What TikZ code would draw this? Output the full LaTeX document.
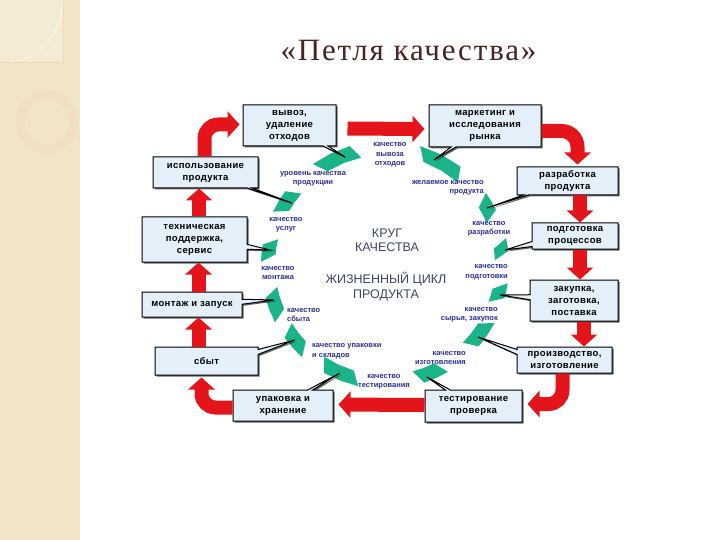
\documentclass[tikz,border=0pt]{standalone}
\usepackage{fontspec}
\setmainfont{Liberation Serif}
\setsansfont{Liberation Sans}
\newfontfamily\boxfont[LetterSpace=4]{Liberation Sans}
\newfontfamily\titlefont[LetterSpace=6]{Liberation Serif}
\usetikzlibrary{arrows.meta,shapes.callouts,shadows}

\definecolor{SlideBeige}{HTML}{F2E4C6}
\definecolor{TitleBrown}{HTML}{4A2420}
\definecolor{BoxBlue}{HTML}{E3F0F9}
\definecolor{LoopRed}{HTML}{E3151B}
\definecolor{LoopGreen}{HTML}{1BB48A}
\definecolor{LabelBlue}{HTML}{2B2F96}
\definecolor{CenterBlue}{HTML}{3A4670}

% one green segment of the ring: middle angle, span
\newcommand{\qpetal}[2]{%
  \fill[LoopGreen] ({#1-#2/2}:110) -- ({#1}:110) -- ({#1+#2/2}:110)
    -- ({#1+#2/2-4}:124) -- ({#1-4}:124) -- ({#1-#2/2-4}:124) -- cycle;}

\begin{document}
\begin{tikzpicture}[x=1pt, y=-1pt,
    stage/.style={rectangle callout, draw=black, line width=1pt, fill=BoxBlue,
      callout pointer width=5pt, align=center, inner sep=0pt,
      font=\boxfont\bfseries\fontsize{9.5}{12}\selectfont,
      drop shadow={shadow xshift=1.5pt, shadow yshift=-1.5pt, opacity=0.6, fill=black}},
    redarrow/.style={line width=14pt, LoopRed, -{Triangle[length=12pt,width=26pt]}},
    quality/.style={font=\sffamily\bfseries\fontsize{7.5}{9.5}\selectfont, text=LabelBlue, inner sep=0pt},
    centre/.style={font=\sffamily\fontsize{12.5}{14.5}\selectfont, text=CenterBlue, align=center, inner sep=0pt}]
    \useasboundingbox (0,0) rectangle (720,540);
    \fill[white] (0,0) rectangle (720,540);

    % Slide decoration on the left
    \fill[SlideBeige] (0,0) rectangle (80,540);
    \fill[white, opacity=0.25] (0,0) rectangle (63,62);
    \draw[SlideBeige!80!brown, opacity=0.5, line width=0.6pt] (63,0) -- (63,62) -- (0,62);
    \draw[white, opacity=0.4, line width=1pt] (63,0) .. controls (60,40) and (35,60) .. (10,62);
    \draw[SlideBeige!90!brown, line width=9pt, opacity=0.35] (47,122) circle (27);

    % Title
    \node[font=\titlefont\fontsize{31}{35}\selectfont, text=TitleBrown, anchor=base] (title) at (408.5,61) {«Петля качества»};

    % Ring of green segments
    \begin{scope}[shift={(385,265)}]
        \qpetal{-112}{19}
        \qpetal{-59}{21}
        \qpetal{-27}{9}
        \qpetal{-5.5}{6}
        \qpetal{16}{7}
        \qpetal{38.5}{13}
        \qpetal{69.5}{12}
        \qpetal{115}{17}
        \qpetal{142}{12}
        \qpetal{162.5}{12}
        \qpetal{189.5}{8}
        \qpetal{215}{11}
    \end{scope}

    % Points on the ring
    \coordinate (g1) at (345,157);
    \coordinate (g2) at (434,160);
    \coordinate (g3) at (487,208);
    \coordinate (g4) at (505,250);
    \coordinate (g5) at (500,295);
    \coordinate (g6) at (478,337);
    \coordinate (g7) at (427,377);
    \coordinate (g8) at (340,373);
    \coordinate (g9) at (295,340);
    \coordinate (g10) at (274,300);
    \coordinate (g11) at (270,250);
    \coordinate (g12) at (292,203);

    % Centre
    \node[centre] (krug) at (387,240.5) {КРУГ\\КАЧЕСТВА};
    \node[centre] (cycle) at (386,286.5) {ЖИЗНЕННЫЙ ЦИКЛ\\ПРОДУКТА};

    % Quality labels
    \node[quality, align=center] (q1) at (390,155) {качество\\вывоза\\отходов};
    \node[quality, align=right, anchor=east] (q2) at (484,188) {желаемое качество\\продукта};
    \node[quality, align=center] (q3) at (489,229) {качество\\разработки};
    \node[quality, align=right, anchor=east] (q4) at (508,272) {качество\\подготовки};
    \node[quality, align=right, anchor=east] (q5) at (498,315) {качество\\сырья, закупок};
    \node[quality, align=right, anchor=east] (q6) at (466,358) {качество\\изготовления};
    \node[quality, align=center] (q7) at (384,382) {качество\\тестирования};
    \node[quality, align=left, anchor=west] (q8) at (312,351) {качество упаковки\\и складов};
    \node[quality, align=left, anchor=west] (q9) at (287,315) {качество\\сбыта};
    \node[quality, align=center] (q10) at (278,273) {качество\\монтажа};
    \node[quality, align=center] (q11) at (286,225) {качество\\услуг};
    \node[quality, align=center] (q12) at (313,179) {уровень качества\\продукции};

    % Stages of the loop
    \node[stage, minimum width=93pt, minimum height=41pt, callout absolute pointer=(g1)] (vyvoz) at (289.5,125.5) {вывоз,\\удаление\\отходов};
    \node[stage, minimum width=112pt, minimum height=42pt, callout absolute pointer=(g2)] (market) at (485,126) {маркетинг и\\исследования\\рынка};
    \node[stage, minimum width=101pt, minimum height=28pt, callout absolute pointer=(g3)] (razr) at (567.5,181) {разработка\\продукта};
    \node[stage, minimum width=86pt, minimum height=26pt, callout absolute pointer=(g4)] (podg) at (575,236) {подготовка\\процессов};
    \node[stage, minimum width=88pt, minimum height=41pt, callout absolute pointer=(g5)] (zakup) at (574,300.5) {закупка,\\заготовка,\\поставка};
    \node[stage, minimum width=95pt, minimum height=26pt, callout absolute pointer=(g6)] (proizv) at (564.5,360) {производство,\\изготовление};
    \node[stage, minimum width=97pt, minimum height=32pt, callout absolute pointer=(g7)] (test) at (473.5,406) {тестирование\\проверка};
    \node[stage, minimum width=100pt, minimum height=31pt, callout absolute pointer=(g8)] (upak) at (283,405.5) {упаковка и\\хранение};
    \node[stage, minimum width=103pt, minimum height=28pt, callout absolute pointer=(g9)] (sbyt) at (206.5,361) {сбыт};
    \node[stage, minimum width=100pt, minimum height=25pt, callout absolute pointer=(g10)] (montazh) at (192,304.5) {монтаж и запуск};
    \node[stage, minimum width=105pt, minimum height=45pt, callout absolute pointer=(g11)] (tech) at (194.5,239.5) {техническая\\поддержка,\\сервис};
    \node[stage, minimum width=105pt, minimum height=31pt, callout absolute pointer=(g12)] (ispolz) at (205.5,172.5) {использование\\продукта};

    % Red arrows
    \draw[redarrow, rounded corners=14pt, shorten >=3pt] ([xshift=-1pt]ispolz.north) |- ([yshift=1pt]vyvoz.west);
    \draw[redarrow, shorten <=11pt, shorten >=4pt] ([yshift=-3pt]vyvoz.east) -- ([yshift=-3pt]market.west);
    \draw[redarrow, rounded corners=16pt, shorten >=2pt] ([yshift=-5pt]market.east) -| ([xshift=10pt]razr.north);
    \draw[redarrow] ([xshift=12.5pt]razr.south) -- ([xshift=5pt]podg.north);
    \draw[redarrow] ([xshift=5pt]podg.south) -- ([xshift=6pt]zakup.north);
    \draw[redarrow] ([xshift=10pt]zakup.south) -- ([xshift=19.5pt]proizv.north);
    \draw[redarrow, rounded corners=14pt, shorten >=5pt] ([xshift=-2pt]proizv.south) |- ([yshift=2pt]test.east);
    \draw[redarrow, shorten >=5pt] ([yshift=1pt]test.west) -- ([yshift=1pt]upak.east);
    \draw[redarrow, rounded corners=14pt, shorten >=2pt] ([yshift=-2pt]upak.west) -| ([xshift=-5pt]sbyt.south);
    \draw[redarrow] ([xshift=-8pt]sbyt.north) -- ([xshift=6.5pt]montazh.south);
    \draw[redarrow] ([xshift=6.5pt]montazh.north) -- ([xshift=4pt]tech.south);
    \draw[redarrow] ([xshift=4.5pt]tech.north) -- ([xshift=-6.5pt]ispolz.south);
\end{tikzpicture}
\end{document}
